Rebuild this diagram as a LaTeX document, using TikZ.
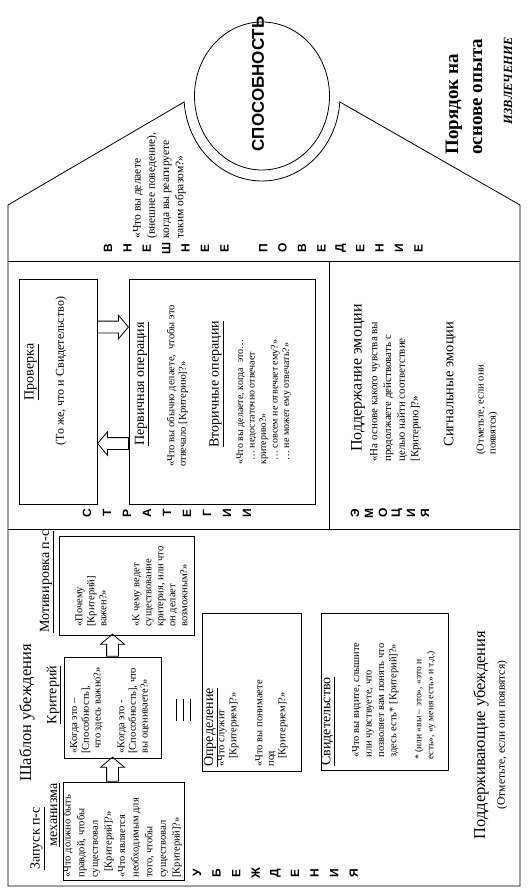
\documentclass[tikz,border=0pt]{standalone}
\usepackage{fontspec}
\setmainfont{Liberation Serif}
\newfontfamily\arialfont{Liberation Sans}
\usetikzlibrary{arrows.meta, positioning, shapes.geometric, shapes.arrows}

\newcommand{\fsz}[2]{\fontsize{#1}{#2}\selectfont}

\tikzset{
  boxst/.style={draw, inner sep=0pt},
  txt/.style={rotate=90, inner sep=0pt, align=left, anchor=west,
              font=\fsz{10.5}{13}},
  ttl/.style={rotate=90, inner sep=0pt, anchor=west, font=\fsz{14}{16}},
  bigttl/.style={rotate=90, inner sep=0pt, font=\fsz{16.5}{18}},
  lett/.style={rotate=90, inner sep=0pt,
               font=\arialfont\bfseries\fsz{12}{12}},
  blkarr/.style={draw, single arrow, inner xsep=0pt, inner ysep=5.5pt,
                 text height=0pt, text depth=0pt, minimum width=0pt,
                 single arrow head extend=6pt, single arrow tip angle=100},
}

\begin{document}
\begin{tikzpicture}[x=1pt, y=-1pt, line width=0.8pt]
  \useasboundingbox (0,0) rectangle (529,893);

  % house outline with the cut-out round the cap
  \coordinate (roofL) at (8,205);
  \coordinate (footL) at (8,886);
  \coordinate (footR) at (520,886);
  \coordinate (roofR) at (520,205);
  \coordinate (arcR) at ({262+78*cos(4)},{96+85*sin(4)});
  \draw (roofL) -- (footL) -- (footR) -- (roofR) -- (arcR)
    -- plot[domain=4:176, samples=60] ({262+78*cos(\x)},{96+85*sin(\x)})
    -- cycle;
  \draw (8,261) -- (520,261);
  \draw (8,529) -- (520,529);
  \draw (329,261) -- (329,529);

  % top: capability
  \node[draw, ellipse, inner sep=0pt, minimum width=135, minimum height=148]
    (capell) at (262,96) {};
  \node[rotate=90, inner sep=0pt, font=\arialfont\bfseries\fsz{17}{20}]
    (captxt) at (258,84) {СПОСОБНОСТЬ};
  \node[txt, font=\bfseries\fsz{19}{24}] (order) at (464,155)
    {Порядок на\\основе опыта};
  \node[rotate=90, inner sep=0pt, font=\bfseries\itshape\fsz{12.5}{14}]
    (extr) at (508,81) {ИЗВЛЕЧЕНИЕ};
  \node[txt, font=\fsz{11.5}{14.3}] (behq) at (159.5,239)
    {«Что вы делаете\\(внешнее поведение),\\когда вы реагируете\\таким образом?»};
  \foreach \ch [count=\i from 0] in {В,Н,Е,Ш,Н,Е,Е,{},П,О,В,Е,Д,Е,Н,И,Е}
    \node[lett] (vp\i) at ({108+19.4*\i},248) {\ch};

  % strategies
  \node[boxst, minimum width=78, minimum height=225] (prov) at (58,391.5) {};
  \node[boxst, minimum width=186, minimum height=225] (perv) at (222,391.5) {};
  \node[blkarr, minimum height=31, anchor=tail] (pr2pv) at (97,327) {};
  \node[blkarr, minimum height=31, anchor=tail, rotate=180] (pv2pr)
    at (129,443.5) {};
  \node[ttl, anchor=center] (provt) at (31.5,372) {\underline{Проверка}};
  \node[txt, anchor=center, font=\fsz{12}{14}] (provn) at (61,371)
    {(То же, что и Свидетельство)};
  \node[ttl, anchor=center] (pervt) at (142,384)
    {\underline{Первичная операция}};
  \node[txt, font=\fsz{10.5}{11.5}] (pervq) at (177.5,467)
    {«Что вы обычно делаете,~ чтобы это\\отвечало [Критерию]?»};
  \node[ttl, anchor=center] (vtort) at (216.5,384)
    {\underline{Вторичные операции}};
  \node[txt, font=\fsz{10}{11.5}] (vtorq) at (264,465)
    {«Что вы делаете, когда~ это…\\\hspace{4pt}… недостаточно отвечает\\критерию?»\\\hspace{4pt}… совсем не отвечает ему?»\\\hspace{4pt}… не может ему отвечать?»};
  \foreach \ch [count=\i from 0] in {С,Т,Р,А,Т,Е,Г,И,И}
    \node[lett] (st\i) at ({87+20*\i},513) {\ch};

  % emotion
  \node[txt, font=\fsz{16}{18}] (emsup) at (358,452) {Поддержание эмоции};
  \node[txt, font=\fsz{11}{13.7}] (emq) at (395.5,462)
    {«На основе какого чувства вы\\продолжаете действовать с\\целью найти соответствие\\{}[Критерию]?»};
  \node[txt, font=\fsz{14.5}{16}] (emsig) at (450,447) {Сигнальные эмоции};
  \node[txt, font=\fsz{10.5}{12}] (emnote) at (487,455)
    {(Отметьте, если они\\появятся)};
  \foreach \ch [count=\i from 0] in {Э,М,О,Ц,И,Я}
    \node[lett] (em\i) at ({355+14*\i},513) {\ch};

  % beliefs
  \node[bigttl] (tmpl) at (27,713) {Шаблон убеждения};
  \node[boxst, minimum width=135, minimum height=99] (mot) at (126.5,585.5) {};
  \node[ttl] (mott) at (47,633) {\underline{Мотивировка п-с}};
  \node[txt, font=\fsz{10.5}{12}] (motq) at (131.5,627)
    {«Почему\\{}[Критерий]\\важен?»\\[21pt]«К чему ведет\\существование\\критерия, или что\\он делает\\возможным?»};
  \node[boxst, minimum width=97, minimum height=101] (kr) at (112.5,707.5) {};
  \node[ttl, anchor=center] (krt) at (54,695) {\underline{Критерий}};
  \node[txt, font=\fsz{10.5}{11.7}] (krq) at (110,754)
    {«Когда это –\\{}[Способность],\\\hspace{5pt}что здесь важно?»\\[12pt]«Когда это -\\{}[Способность], что\\вы оцениваете?»};
  \node[boxst, minimum width=121, minimum height=98] (zap) at (123.5,831) {};
  \node[ttl] (zapt1) at (37.5,870) {\underline{Запуск п-с}};
  \node[ttl] (zapt2) at (55,847) {\underline{механизма}};
  \node[txt, font=\fsz{10.5}{13.6}] (zapq) at (122.5,878)
    {«Что должно быть\\правдой, чтобы\\существовал\\\hspace{6pt}[Критерий]?»\\«Что является\\необходимым для\\того, чтобы\\существовал\\{}[Критерий]?»};
  \node[blkarr, minimum height=24, anchor=tail, rotate=90] (zap2kr)
    at (kr.south |- zap.north) {};
  \node[blkarr, minimum height=22, anchor=tail, rotate=90] (kr2mot)
    at (kr.north) {};
  \foreach \xx in {176,183,190}
    \draw (\xx,699) -- (\xx,721);
  \node[boxst, minimum width=99, minimum height=158] (opr) at (251.5,692) {};
  \node[ttl] (oprt) at (211,767) {\underline{Определение}};
  \node[txt, font=\fsz{10.5}{12}] (oprq1) at (228,767)
    {«Что служит\\\hspace{8pt}[Критерием]?»};
  \node[txt, font=\fsz{10.5}{11.5}] (oprq2) at (271.5,767)
    {«Что вы понимаете\\под\\\hspace{8pt}[Критерием]?»};
  \node[boxst, minimum width=127, minimum height=157] (svd) at (384.5,691.5) {};
  \node[ttl] (svdt) at (328,766) {\underline{Свидетельство}};
  \node[txt, font=\fsz{10.5}{12.4}] (svdq) at (375.5,758)
    {«Что вы видите, слышите\\или чувствуете, что\\позволяет вам понять что\\здесь есть* [Критерий]?»};
  \node[txt, font=\fsz{9.5}{12}] (svdn) at (425,760)
    {* (или «вы – это», «это и\\есть», «у меня есть» и т.д.)};
  \node[bigttl] (supb) at (481,735) {Поддерживающие убеждения};
  \node[rotate=90, inner sep=0pt, font=\fsz{11.5}{13}] (supbn) at (502,735)
    {(Отметьте, если они появятся)};
  \foreach \ch [count=\i from 0] in {У,Б,Е,Ж,Д,Е,Н,И,Я}
    \node[lett] (ub\i) at ({197+19.6*\i},873) {\ch};
\end{tikzpicture}
\end{document}
